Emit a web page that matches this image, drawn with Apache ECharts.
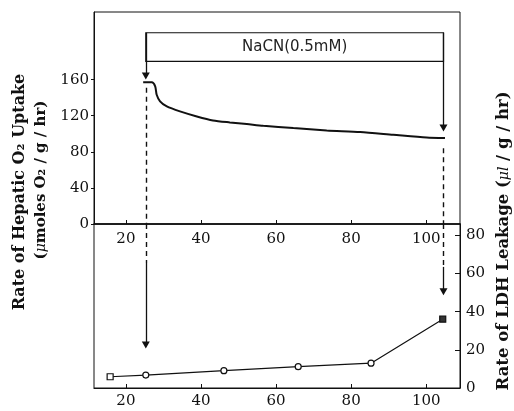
<!DOCTYPE html>
<html>
<head>
<meta charset="utf-8">
<script src="https://cdn.jsdelivr.net/npm/echarts@6/dist/echarts.min.js"></script>
<style>
  html, body { margin: 0; padding: 0; background: #fff; }
  #chart { width: 514px; height: 411px; }
</style>
</head>
<body>
<div id="chart"></div>
<script>
// --- data ---
// hepatic O2 uptake trace (upper panel)
const uptakeX = [24.6, 26.9, 27.8, 28.2, 29.1, 30.9, 34.4, 38.9, 43.2, 47.7, 52.2, 56.6, 64.6, 73.5, 82.4, 91.2, 100.1, 105];
const uptakeY = [157, 157, 152.6, 143.3, 136, 130.3, 124.8, 119.2, 114.8, 112.6, 110.8, 108.9, 106.3, 103.7, 101.9, 98.9, 95.9, 95.2];
// LDH leakage (lower panel)
const ldhX = [15.8, 25.3, 46.1, 65.9, 85.3, 104.4];
const ldhY = [5.9, 6.8, 9.1, 11.2, 13.0, 36.1];

// tick labels
const xTicks = [20, 40, 60, 80, 100];
const uptakeTicks = [0, 40, 80, 120, 160];
const ldhTicks = [0, 20, 40, 60, 80];

// NaCN exposure window and arrow marks
const nacnStart = 25.3;
const nacnEnd = 104.6;
const nacnLabel = 'NaCN(0.5mM)';
const nacnBox = [180.3, 212];        // box bottom / top, in O2 units
const upperArrowTip = [164, 106.3];  // left, right
const upperDashTop = [151, 84];      // where the dashed drop line starts
const lowerDashEnd = [65.6, 63.5];   // LDH units
const lowerArrowTip = [22.6, 50.5];

const INK = '#111';
const SERIF = '"DejaVu Serif", "Liberation Serif", serif';
const tickFont = { color: INK, fontFamily: SERIF, fontSize: 15 };

const solid = { type: 'solid', color: INK, width: 1.3 };
const dashed = { type: [5, 4], color: INK, width: 1.4 };

const arrowLine = (x, from, to) => [
  { coord: [x, from], symbol: 'none', lineStyle: solid },
  { coord: [x, to], symbol: 'triangle', symbolSize: [8, 7] }
];
const dashLine = (x, from, to) => [
  { coord: [x, from], symbol: 'none', lineStyle: dashed },
  { coord: [x, to], symbol: 'none' }
];

const chart = echarts.init(document.getElementById('chart'));

const option = {
  backgroundColor: '#fff',
  animation: false,
  grid: [
    { left: 94, right: 54, top: 12, height: 212, show: true, borderColor: INK, borderWidth: 1 },
    { left: 94, right: 54, top: 224, bottom: 23, show: true, borderColor: INK, borderWidth: 1 }
  ],
  xAxis: [
    {
      type: 'value', gridIndex: 0, min: 11.5, max: 109,
      axisLine: { show: true, lineStyle: { color: INK, width: 1.6 } },
      axisTick: { inside: true, length: 4, customValues: xTicks, lineStyle: { color: INK } },
      axisLabel: { customValues: xTicks, margin: 8, ...tickFont },
      splitLine: { show: false }
    },
    {
      type: 'value', gridIndex: 1, min: 11.5, max: 109,
      axisLine: { show: true, lineStyle: { color: INK, width: 1.2 } },
      axisTick: { inside: true, length: 4, customValues: xTicks, lineStyle: { color: INK } },
      axisLabel: { customValues: xTicks, margin: 6, ...tickFont },
      splitLine: { show: false }
    }
  ],
  yAxis: [
    {
      type: 'value', gridIndex: 0, min: 0, max: 235, position: 'left',
      axisLine: { show: true, lineStyle: { color: INK, width: 1 } },
      axisTick: { inside: false, length: 3, customValues: uptakeTicks, lineStyle: { color: INK } },
      axisLabel: { customValues: uptakeTicks, margin: 5, ...tickFont },
      splitLine: { show: false }
    },
    {
      type: 'value', gridIndex: 1, min: 0, max: 86, position: 'right',
      axisLine: { show: true, lineStyle: { color: INK, width: 1 } },
      axisTick: { inside: true, length: 5, customValues: ldhTicks, lineStyle: { color: INK } },
      axisLabel: { customValues: ldhTicks, margin: 6, ...tickFont },
      splitLine: { show: false }
    }
  ],
  series: [
    {
      name: 'O2 uptake',
      type: 'line',
      xAxisIndex: 0, yAxisIndex: 0,
      data: uptakeX.map((x, i) => [x, uptakeY[i]]),
      showSymbol: false,
      smooth: 0.25,
      lineStyle: { color: INK, width: 2 },
      markArea: {
        silent: true,
        itemStyle: { color: 'rgba(0,0,0,0)', borderColor: INK, borderWidth: 1.2 },
        label: {
          show: true, position: 'inside', color: '#222',
          fontFamily: '"DejaVu Sans", sans-serif', fontSize: 15
        },
        data: [[
          { coord: [nacnStart, nacnBox[0]], name: nacnLabel },
          { coord: [nacnEnd, nacnBox[1]] }
        ]]
      },
      markLine: {
        silent: true,
        label: { show: false },
        data: [
          arrowLine(nacnStart, nacnBox[1], upperArrowTip[0]),
          arrowLine(nacnEnd, nacnBox[1], upperArrowTip[1]),
          dashLine(nacnStart, upperDashTop[0], 0),
          dashLine(nacnEnd, upperDashTop[1], 0)
        ]
      }
    },
    {
      name: 'LDH leakage',
      type: 'line',
      xAxisIndex: 1, yAxisIndex: 1,
      data: ldhX.map((x, i) => [x, ldhY[i]]),
      symbol: (val, p) => (p.dataIndex === 0 || p.dataIndex === ldhX.length - 1) ? 'rect' : 'circle',
      symbolSize: 6,
      itemStyle: {
        color: (p) => p.dataIndex === ldhX.length - 1 ? '#333' : '#fff',
        borderColor: INK, borderWidth: 1.2
      },
      lineStyle: { color: INK, width: 1.2 },
      markLine: {
        silent: true,
        label: { show: false },
        data: [
          dashLine(nacnStart, 86, lowerDashEnd[0]),
          arrowLine(nacnStart, lowerDashEnd[0], lowerArrowTip[0]),
          dashLine(nacnEnd, 86, lowerDashEnd[1]),
          arrowLine(nacnEnd, lowerDashEnd[1], lowerArrowTip[1])
        ]
      }
    }
  ],
  graphic: [
    {
      type: 'text', x: 20, y: 192, rotation: Math.PI / 2,
      style: {
        text: 'Rate of Hepatic O₂ Uptake',
        fill: INK, font: 'bold 16px ' + SERIF,
        align: 'center', verticalAlign: 'middle',
        textAlign: 'center', textVerticalAlign: 'middle'
      }
    },
    {
      type: 'text', x: 41, y: 180, rotation: Math.PI / 2,
      style: {
        text: '{b|(}{m|μ}{b|moles O₂ / g / hr)}',
        fill: INK,
        align: 'center', verticalAlign: 'middle',
        textAlign: 'center', textVerticalAlign: 'middle',
        rich: {
          b: { fontFamily: SERIF, fontWeight: 'bold', fontSize: 15, fill: INK },
          m: { fontFamily: SERIF, fontStyle: 'italic', fontSize: 14, fill: INK }
        }
      }
    },
    {
      type: 'text', x: 504, y: 241, rotation: Math.PI / 2,
      style: {
        text: '{b|Rate of LDH Leakage (}{m|μl}{b| / g / hr)}',
        fill: INK,
        align: 'center', verticalAlign: 'middle',
        textAlign: 'center', textVerticalAlign: 'middle',
        rich: {
          b: { fontFamily: SERIF, fontWeight: 'bold', fontSize: 16.5, fill: INK },
          m: { fontFamily: SERIF, fontStyle: 'italic', fontSize: 14, fill: INK }
        }
      }
    }
  ]
};

chart.setOption(option);
</script>
</body>
</html>
